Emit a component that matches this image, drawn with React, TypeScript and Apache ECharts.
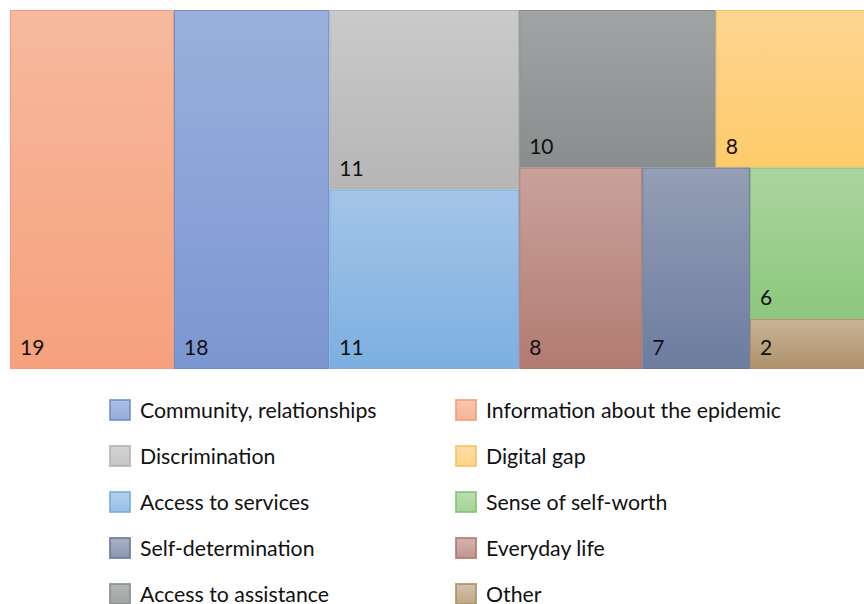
import React, { useEffect, useRef } from "react";
import * as echarts from "echarts";

// ---------- data ----------
const categories: string[] = [
  "Information about the epidemic",
  "Community, relationships",
  "Discrimination",
  "Access to services",
  "Access to assistance",
  "Digital gap",
  "Everyday life",
  "Self-determination",
  "Sense of self-worth",
  "Other",
];
const values: number[] = [19, 18, 11, 11, 10, 8, 8, 7, 6, 2];

// legend columns, in reading order
const legendLeftColumn: string[] = [
  "Community, relationships",
  "Discrimination",
  "Access to services",
  "Self-determination",
  "Access to assistance",
];
const legendRightColumn: string[] = [
  "Information about the epidemic",
  "Digital gap",
  "Sense of self-worth",
  "Everyday life",
  "Other",
];

// ---------- styles ----------
const topColors: string[] = [
  "#F7B99E", "#9AB0DC", "#C9CAC9", "#A4C5E8", "#A1A4A4",
  "#FED592", "#C9A29B", "#949EB5", "#ABD59F", "#C8B495",
];
const bottomColors: string[] = [
  "#F6A17D", "#7C96D2", "#B5B6B5", "#7CAFE0", "#8A8D8D",
  "#FFCB69", "#B27B71", "#6D7C9F", "#8CC87D", "#AE916B",
];
const borderColors: string[] = [
  "#F29C77", "#6F8DCD", "#AFB0AF", "#78ABDC", "#858888",
  "#F5C160", "#AE766B", "#66769A", "#85C174", "#AB8D62",
];

// how the cells are grouped by the slice layout (indices into categories)
type Nest = number | Nest[];
const nesting: Nest[] = [0, [1, [[2, 3], [[4, 5], [6, [7, [8, 9]]]]]]];

const FONT = "Lato";

function grad(i: number) {
  return new echarts.graphic.LinearGradient(0, 0, 0, 1, [
    { offset: 0, color: topColors[i] },
    { offset: 1, color: bottomColors[i] },
  ]);
}

function sumOf(n: Nest): number {
  return typeof n === "number" ? values[n] : n.reduce((s: number, c) => s + sumOf(c), 0);
}

function build(n: Nest): any {
  if (typeof n === "number") {
    return {
      name: categories[n],
      value: values[n],
      itemStyle: {
        color: grad(n),
        borderColor: borderColors[n],
        borderWidth: 1,
        gapWidth: 0,
      },
    };
  }
  return {
    name: "",
    value: sumOf(n),
    children: n.map(build),
    itemStyle: { borderWidth: 0, gapWidth: 0, borderColor: "rgba(0,0,0,0)" },
    label: { show: false },
    upperLabel: { show: false },
  };
}

export default function App() {
  const ref = useRef<HTMLDivElement>(null);
  useEffect(() => {
    if (!ref.current) return;
    const chart = echarts.init(ref.current, null, { renderer: "svg" });
    const legendCommon = {
      type: "plain",
      orient: "vertical",
      padding: 0,
      height: 230,
      itemWidth: 20,
      itemHeight: 20,
      itemGap: 24,
      icon: "rect",
      selectedMode: false,
      textStyle: {
        fontFamily: FONT,
        fontSize: 21.3,
        color: "#111",
        lineHeight: 20,
        padding: [0, 0, 0, 5],
      },
    };
    chart.setOption({
      animation: false,
      backgroundColor: "#fff",
      grid: { show: false, left: 0, top: 0, width: 1, height: 1 },
      xAxis: { show: false, type: "value" },
      yAxis: { show: false, type: "value" },
      legend: [
        { ...legendCommon, data: legendLeftColumn, left: 109, top: 399 },
        { ...legendCommon, data: legendRightColumn, left: 455, top: 399 },
      ],
      series: [
        {
          type: "treemap",
          left: 10,
          top: 10,
          width: 863,
          height: 359,
          squareRatio: 0.01,
          sort: false,
          roam: false,
          nodeClick: false,
          breadcrumb: { show: false },
          itemStyle: { borderWidth: 0, gapWidth: 0 },
          upperLabel: { show: false },
          label: {
            show: true,
            position: "insideBottomLeft",
            distance: 0,
            padding: [0, 0, 11, 9],
            formatter: (p: any) => String(p.value),
            color: "#111",
            fontFamily: FONT,
            fontSize: 21,
            overflow: "none",
          },
          emphasis: { disabled: true },
          data: nesting.map(build),
        },
        ...categories.map((c, i) => ({
          type: "scatter",
          name: c,
          data: [],
          itemStyle: { color: grad(i), borderColor: borderColors[i], borderWidth: 1 },
        })),
      ],
    });
    return () => chart.dispose();
  }, []);
  return (
    <div
      ref={ref}
      style={{ position: "fixed", left: 0, top: 0, width: 864, height: 604 }}
    />
  );
}
